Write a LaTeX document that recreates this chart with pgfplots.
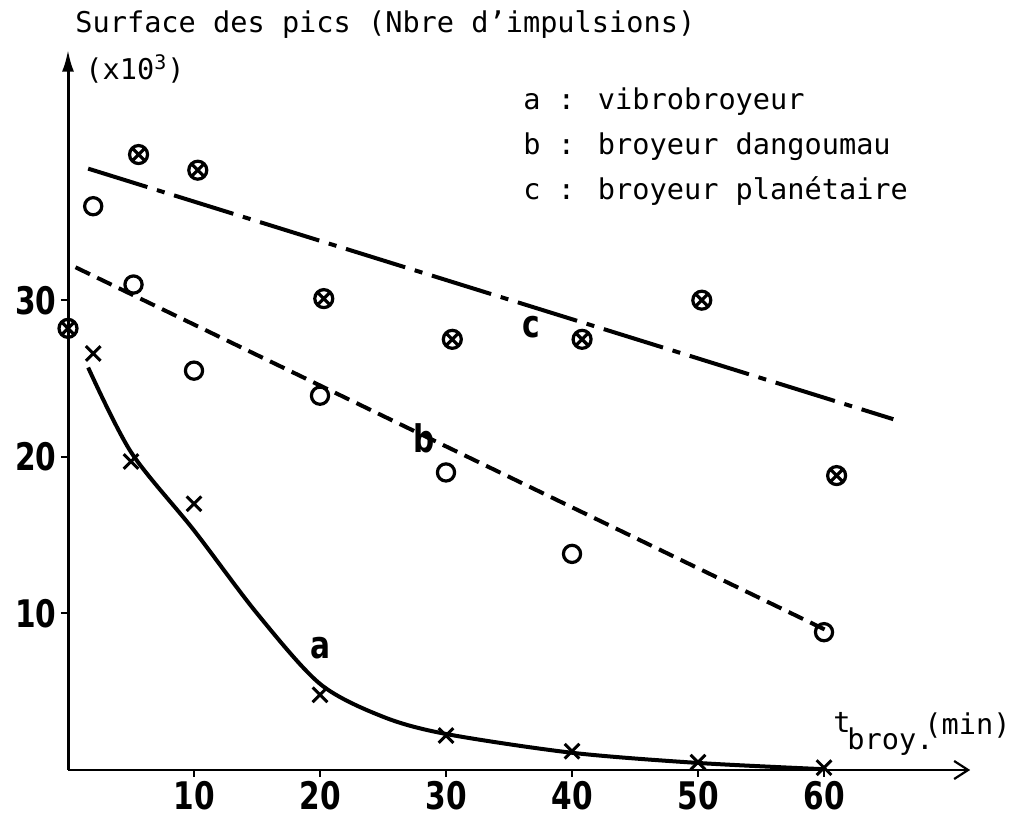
\documentclass[border=0pt]{standalone}
\usepackage{pgfplots}
\pgfplotsset{compat=1.18}
\usetikzlibrary{arrows.meta}
\usepackage{fontspec}
\setmainfont{DejaVu Sans Mono}
\newfontfamily\tickfont{DejaVu Sans}[FakeStretch=0.78]

% a : vibrobroyeur (points and drawn curve)
\pgfplotstableread{
x y
2 26.6
5 19.7
10 17.0
20 4.8
30 2.2
40 1.2
50 0.5
60 0.15
}\vibro
\pgfplotstableread{
x y
1.6 25.7
5 20.3
10 15.3
15 10.0
20 5.5
25 3.4
30 2.3
40 1.1
50 0.45
60 0.05
}\vibrocurve
% b : broyeur dangoumau
\pgfplotstableread{
x y
2 36.0
5.2 31.0
10 25.5
20 23.9
30 19.0
40 13.8
60 8.8
}\dango
% c : broyeur planetaire
\pgfplotstableread{
x y
0 28.2
5.6 39.3
10.3 38.3
20.3 30.1
30.5 27.5
40.8 27.5
50.3 30.0
61 18.8
}\plan

\begin{document}
\begin{tikzpicture}
\begin{axis}[
    x=6.3pt, y=7.83pt,
    xmin=0, xmax=71.6, ymin=0, ymax=46,
    axis x line=bottom, axis y line=left,
    x axis line style={line width=1.1pt, -{Straight Barb[length=7pt,width=9pt,line width=1.1pt]}},
    y axis line style={line width=1.5pt, -{Latex[length=11pt,width=6pt]}},
    xtick={10,20,30,40,50,60}, ytick={10,20,30},
    tick align=outside, major tick length=3.5pt,
    tick style={line width=1.1pt, black},
    ticklabel style={font=\tickfont\bfseries\fontsize{19}{19}\selectfont, inner sep=2pt},
    /pgf/number format/assume math mode=true,
    clip=false,
]
\coordinate (O) at (axis cs:0,0);

% curves
\addplot[line width=2pt, smooth, tension=0.5] table[x=x,y=y] {\vibrocurve};
\addplot[line width=2pt, dash pattern=on 8pt off 4pt] coordinates {(0.6,32.1) (60.5,8.8)};
\addplot[line width=2pt, dash pattern=on 31pt off 5pt on 4pt off 5pt] coordinates {(1.6,38.4) (65.5,22.4)};

% measured points
\addplot[only marks, mark=x, mark size=5.2pt, mark options={line width=1.5pt}] table[x=x,y=y] {\vibro};
\addplot[only marks, mark=o, mark size=4.3pt, mark options={line width=1.6pt, fill=white}] table[x=x,y=y] {\dango};
\addplot[only marks, mark=otimes, mark size=4.5pt, mark options={line width=1.6pt, fill=white}] table[x=x,y=y] {\plan};

% curve labels
\node[font=\tickfont\bfseries\fontsize{19}{19}\selectfont] at (axis cs:20,7.8) {a};
\node[font=\tickfont\bfseries\fontsize{19}{19}\selectfont] at (axis cs:28.3,21.2) {b};
\node[font=\tickfont\bfseries\fontsize{19}{19}\selectfont] at (axis cs:36.8,28.3) {c};
\end{axis}

\begin{scope}[shift={(O)}, every node/.style={inner sep=0pt, font=\fontsize{14.3}{17}\selectfont}]
\node[anchor=base west] at (3.5pt,368.5pt) {Surface des pics (Nbre d'impulsions)};
\node[anchor=base west] at (8.5pt,345pt) {(x10\textsuperscript{3})};
\node[anchor=base west] at (227.5pt,330pt) {a : vibrobroyeur};
\node[anchor=base west] at (227.5pt,307.5pt) {b : broyeur dangoumau};
\node[anchor=base west] at (227.5pt,285pt) {c : broyeur planétaire};
\node[anchor=base west] at (382.5pt,18.5pt) {t};
\node[anchor=base west] at (389.5pt,10pt) {broy.};
\node[anchor=base west] at (428pt,17.5pt) {(min)};
\end{scope}

\pgfresetboundingbox
\path[use as bounding box, shift={(O)}] (-34pt,-26pt) rectangle (476pt,385pt);
\end{tikzpicture}
\end{document}
